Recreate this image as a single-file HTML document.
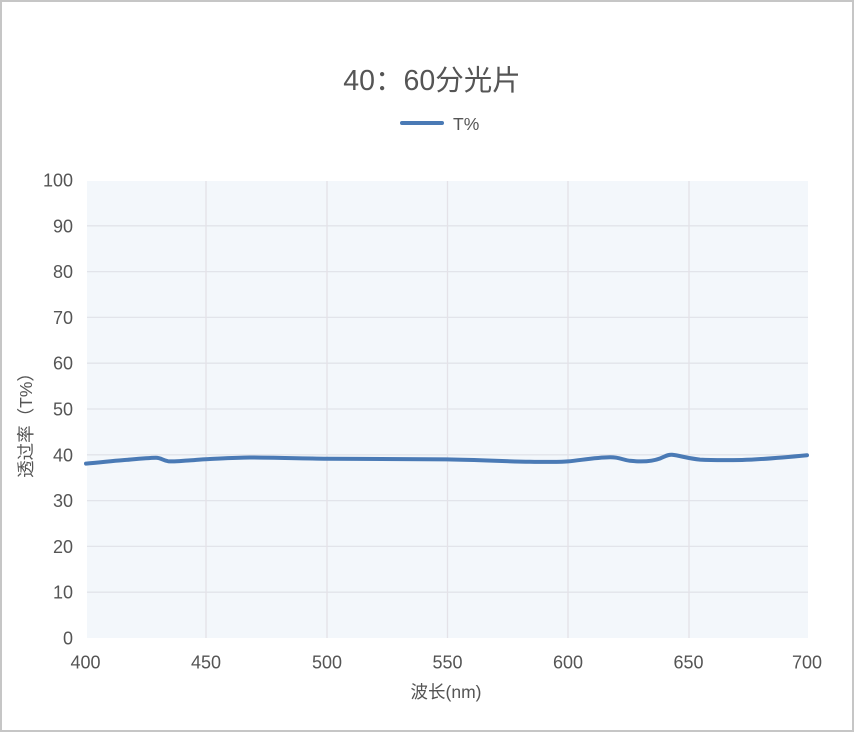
<!DOCTYPE html>
<html>
<head>
<meta charset="utf-8">
<style>
  html, body { margin:0; padding:0; background:#ffffff; }
  body { width:855px; height:744px; overflow:hidden; }
  svg { display:block; }
  text { font-family: "Liberation Sans", "Noto Sans CJK SC", sans-serif; fill:#555555; }
</style>
</head>
<body>
<svg width="855" height="744" viewBox="0 0 855 744" xmlns="http://www.w3.org/2000/svg">
  <!-- outer border -->
  <rect x="1" y="1" width="852" height="730" fill="#ffffff" stroke="#c6c6c6" stroke-width="2"/>

  <!-- title -->
  <text x="432" y="90" font-size="28.5" text-anchor="middle">40：60分光片</text>

  <!-- legend -->
  <line x1="402" y1="123" x2="442" y2="123" stroke="#4a7ab5" stroke-width="4" stroke-linecap="round"/>
  <text x="453" y="130" font-size="17.5">T%</text>

  <!-- plot background -->
  <rect x="87" y="181" width="721" height="457" fill="#f3f7fb"/>

  <!-- horizontal gridlines -->
  <g stroke="#e2e4ea" stroke-width="1.3">
    <line x1="87" y1="225.8" x2="808" y2="225.8"/>
    <line x1="87" y1="271.6" x2="808" y2="271.6"/>
    <line x1="87" y1="317.4" x2="808" y2="317.4"/>
    <line x1="87" y1="363.2" x2="808" y2="363.2"/>
    <line x1="87" y1="409" x2="808" y2="409"/>
    <line x1="87" y1="454.8" x2="808" y2="454.8"/>
    <line x1="87" y1="500.6" x2="808" y2="500.6"/>
    <line x1="87" y1="546.4" x2="808" y2="546.4"/>
    <line x1="87" y1="592.2" x2="808" y2="592.2"/>
  </g>
  <!-- vertical gridlines -->
  <g stroke="#e4e2e8" stroke-width="1.3">
    <line x1="206" y1="181" x2="206" y2="638"/>
    <line x1="327" y1="181" x2="327" y2="638"/>
    <line x1="447.5" y1="181" x2="447.5" y2="638"/>
    <line x1="568" y1="181" x2="568" y2="638"/>
    <line x1="689" y1="181" x2="689" y2="638"/>
  </g>

  <!-- y tick labels -->
  <g font-size="18" text-anchor="end">
    <text x="73" y="186.5">100</text>
    <text x="73" y="232.3">90</text>
    <text x="73" y="278.1">80</text>
    <text x="73" y="323.9">70</text>
    <text x="73" y="369.7">60</text>
    <text x="73" y="415.5">50</text>
    <text x="73" y="461.3">40</text>
    <text x="73" y="507.1">30</text>
    <text x="73" y="552.9">20</text>
    <text x="73" y="598.7">10</text>
    <text x="73" y="644.5">0</text>
  </g>

  <!-- x tick labels -->
  <g font-size="18" text-anchor="middle">
    <text x="85.5" y="668.5">400</text>
    <text x="206" y="668.5">450</text>
    <text x="327" y="668.5">500</text>
    <text x="447.5" y="668.5">550</text>
    <text x="568" y="668.5">600</text>
    <text x="688.5" y="668.5">650</text>
    <text x="807" y="668.5">700</text>
  </g>

  <!-- axis names -->
  <text x="446" y="698" font-size="17.5" text-anchor="middle">波长(nm)</text>
  <text transform="translate(32,421) rotate(-90)" font-size="17.5" text-anchor="middle">透过率（T%）</text>

  <!-- series -->
  <path d="M86,463.6
           C100,462.5 112,461 122,460.3
           C135,459.2 146,458 156,457.8
           C161,457.8 163,460.5 168,461.2
           C174,461.8 180,461 188,460.5
           C196,460 200,459.4 208,459.1
           C225,458.3 236,457.6 250,457.5
           C270,457.5 300,458.4 327,458.7
           C370,459 420,459.2 447,459.4
           C480,459.9 505,461.4 530,461.8
           C548,462 558,462.2 568,461.4
           C582,460 596,457.5 610,457.3
           C620,457.2 622,459.8 630,460.8
           C640,461.8 652,461.5 660,458.5
           C666,456 668,454.5 672,454.8
           C680,455.6 688,458.5 700,459.6
           C712,460.3 728,460.2 742,460
           C762,459.4 785,457.3 807,455.2"
        fill="none" stroke="#4a7ab5" stroke-width="4" stroke-linejoin="round" stroke-linecap="round"/>
</svg>
</body>
</html>
